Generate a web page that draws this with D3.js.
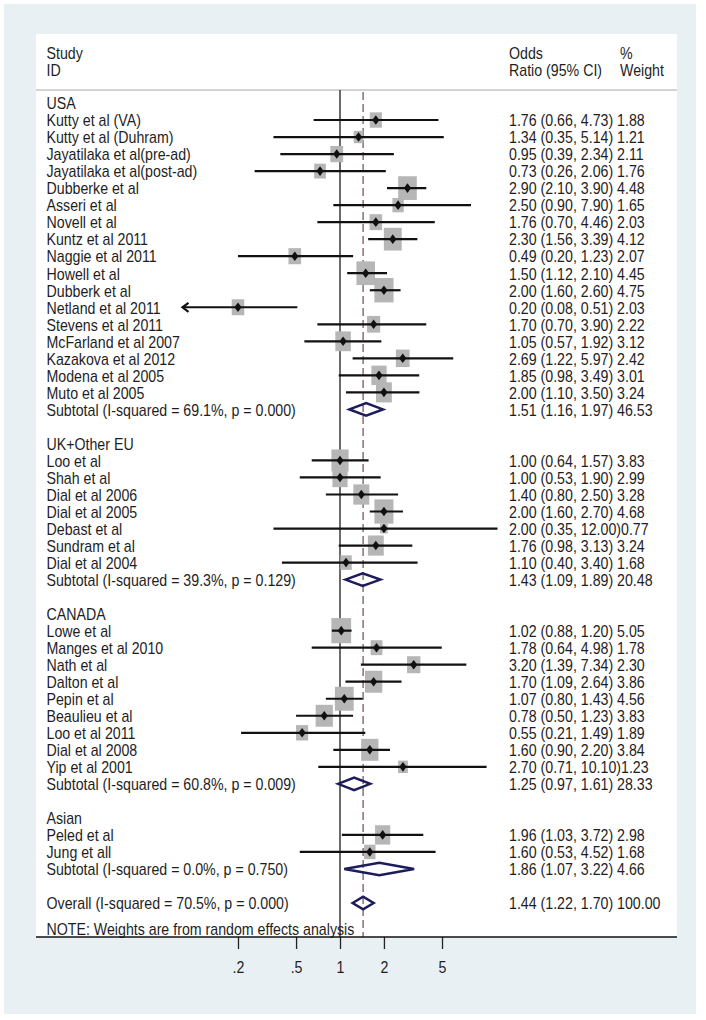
<!DOCTYPE html>
<html><head><meta charset="utf-8">
<script src="https://cdn.jsdelivr.net/npm/d3@7"></script>
<style>
body{margin:0;background:#fff}
svg{display:block}
text{font-family:"Liberation Sans",Arial,sans-serif;fill:#1e1e1e;font-size:17px}
</style>
</head><body><svg id="c" width="706" height="1020"></svg>
<script>
// ---------------- DATA ----------------
const groups = ["USA", "UK+Other EU", "CANADA", "Asian"];

const studyNames = [
  "Kutty et al (VA)", "Kutty et al (Duhram)", "Jayatilaka et al(pre-ad)", "Jayatilaka et al(post-ad)",
  "Dubberke et al", "Asseri et al", "Novell et al", "Kuntz et al 2011", "Naggie et al 2011",
  "Howell et al", "Dubberk et al", "Netland et al 2011", "Stevens et al 2011", "McFarland et al 2007",
  "Kazakova et al 2012", "Modena et al 2005", "Muto et al 2005",
  "Loo et al", "Shah et al", "Dial et al 2006", "Dial et al 2005", "Debast et al", "Sundram et al", "Dial et al 2004",
  "Lowe et al", "Manges et al 2010", "Nath et al", "Dalton et al", "Pepin et al", "Beaulieu et al",
  "Loo et al 2011", "Dial et al 2008", "Yip et al 2001",
  "Peled et al", "Jung et all"
];
const studyGroup = [
  0,0,0,0,0,0,0,0,0,0,0,0,0,0,0,0,0,
  1,1,1,1,1,1,1,
  2,2,2,2,2,2,2,2,2,
  3,3
];
const studyOR = [1.76,1.34,0.95,0.73,2.90,2.50,1.76,2.30,0.49,1.50,2.00,0.20,1.70,1.05,2.69,1.85,2.00,
  1.00,1.00,1.40,2.00,2.00,1.76,1.10,
  1.02,1.78,3.20,1.70,1.07,0.78,0.55,1.60,2.70,
  1.96,1.60];
const studyLo = [0.66,0.35,0.39,0.26,2.10,0.90,0.70,1.56,0.20,1.12,1.60,0.08,0.70,0.57,1.22,0.98,1.10,
  0.64,0.53,0.80,1.60,0.35,0.98,0.40,
  0.88,0.64,1.39,1.09,0.80,0.50,0.21,0.90,0.71,
  1.03,0.53];
const studyHi = [4.73,5.14,2.34,2.06,3.90,7.90,4.46,3.39,1.23,2.10,2.60,0.51,3.90,1.92,5.97,3.49,3.50,
  1.57,1.90,2.50,2.70,12.00,3.13,3.40,
  1.20,4.98,7.34,2.64,1.43,1.23,1.49,2.20,10.10,
  3.72,4.52];
const studyWeight = [1.88,1.21,2.11,1.76,4.48,1.65,2.03,4.12,2.07,4.45,4.75,2.03,2.22,3.12,2.42,3.01,3.24,
  3.83,2.99,3.28,4.68,0.77,3.24,1.68,
  5.05,1.78,2.30,3.86,4.56,3.83,1.89,3.84,1.23,
  2.98,1.68];

const subtotalLabels = [
  "Subtotal  (I-squared = 69.1%, p = 0.000)",
  "Subtotal  (I-squared = 39.3%, p = 0.129)",
  "Subtotal  (I-squared = 60.8%, p = 0.009)",
  "Subtotal  (I-squared = 0.0%, p = 0.750)"
];
const subtotalOR = [1.51, 1.43, 1.25, 1.86];
const subtotalLo = [1.16, 1.09, 0.97, 1.07];
const subtotalHi = [1.97, 1.89, 1.61, 3.22];
const subtotalWeight = [46.53, 20.48, 28.33, 4.66];

const overallLabel = "Overall  (I-squared = 70.5%, p = 0.000)";
const overallOR = 1.44, overallLo = 1.22, overallHi = 1.70, overallWeight = 100.00;
const noteText = "NOTE: Weights are from random effects analysis";

const tickValues = [0.2, 0.5, 1, 2, 5];
const tickLabels = [".2", ".5", "1", "2", "5"];
const xDomain = [1/12, 12];

// ---------------- LAYOUT ----------------
const svg = d3.select("#c");
const SX = 0.835;
const panel = {x0: 36, x1: 677, y0: 34, y1: 937};

svg.append("rect").attr("x",4).attr("y",4).attr("width",692).attr("height",1010).attr("fill","#e9f0f3");
svg.append("rect").attr("x",panel.x0).attr("y",panel.y0).attr("width",panel.x1-panel.x0).attr("height",panel.y1-panel.y0).attr("fill","#fff");

// rows
const rows = [];
groups.forEach((g, gi) => {
  rows.push({type:"group", label:g});
  studyNames.forEach((n, i) => {
    if (studyGroup[i] === gi) rows.push({type:"study", label:n, or:studyOR[i], lo:studyLo[i], hi:studyHi[i], w:studyWeight[i]});
  });
  rows.push({type:"sub", label:subtotalLabels[gi], or:subtotalOR[gi], lo:subtotalLo[gi], hi:subtotalHi[gi], w:subtotalWeight[gi]});
  rows.push({type:"blank", label:""});
});
rows.push({type:"overall", label:overallLabel, or:overallOR, lo:overallLo, hi:overallHi, w:overallWeight});

const y = d3.scaleLinear().domain([0, rows.length-1]).range([103, 903]);
const x = d3.scaleLog().domain(xDomain).range([182.5, 497.5]);

function txt(px, py, s, g) {
  return (g || svg).append("text").attr("transform", `translate(${px},${py}) scale(${SX},1)`).text(s);
}

// header
txt(46.5, 58.5, "Study"); txt(46.5, 75.5, "ID");
txt(509, 58.5, "Odds"); txt(509, 75.5, "Ratio (95% CI)");
txt(620, 58.5, "%"); txt(620, 75.5, "Weight");
svg.append("line").attr("x1",panel.x0).attr("x2",panel.x1).attr("y1",90).attr("y2",90).attr("stroke","#a8a8a8").attr("stroke-width",1.2);

// reference lines
svg.append("line").attr("x1",x(1)).attr("x2",x(1)).attr("y1",90).attr("y2",panel.y1).attr("stroke","#3a3a3a").attr("stroke-width",1.5);
svg.append("line").attr("x1",x(overallOR)).attr("x2",x(overallOR)).attr("y1",92).attr("y2",panel.y1)
  .attr("stroke","#7d5c5c").attr("stroke-width",1.3).attr("stroke-dasharray","8,4");

const f2 = d3.format(".2f");
const KW = 8.8, KH = 11.2;

const studies = rows.map((r,i)=>({...r, i})).filter(r => r.type === "study");
// squares
svg.append("g").selectAll("rect").data(studies).join("rect")
  .attr("x", d => x(d.or) - KW*Math.sqrt(d.w)/2)
  .attr("y", d => y(d.i) - KH*Math.sqrt(d.w)/2)
  .attr("width", d => KW*Math.sqrt(d.w))
  .attr("height", d => KH*Math.sqrt(d.w))
  .attr("fill", "#b6b6b6");
// CI lines
svg.append("g").selectAll("line").data(studies).join("line")
  .attr("x1", d => x(Math.max(d.lo, xDomain[0])))
  .attr("x2", d => x(Math.min(d.hi, xDomain[1])))
  .attr("y1", d => y(d.i)).attr("y2", d => y(d.i))
  .attr("stroke", "#111").attr("stroke-width", 2.2);
// arrows for truncated CIs
svg.append("g").selectAll("path").data(studies.filter(d => d.lo < xDomain[0])).join("path")
  .attr("d", d => { const x0 = x(xDomain[0]), yy = y(d.i); return `M${x0+6},${yy-4.5}L${x0},${yy}L${x0+6},${yy+4.5}`; })
  .attr("fill","none").attr("stroke","#111").attr("stroke-width",2.2);
// point markers
svg.append("g").selectAll("path").data(studies).join("path")
  .attr("d", d => { const cx = x(d.or), cy = y(d.i); return `M${cx},${cy-4.8}L${cx+3.6},${cy}L${cx},${cy+4.8}L${cx-3.6},${cy}Z`; })
  .attr("fill", "#111");

// pooled diamonds
const pooled = rows.map((r,i)=>({...r, i})).filter(r => r.type === "sub" || r.type === "overall");
svg.append("g").selectAll("path").data(pooled).join("path")
  .attr("d", d => { const cy = y(d.i), h = 6.3; return `M${x(d.lo)},${cy}L${x(d.or)},${cy-h}L${x(d.hi)},${cy}L${x(d.or)},${cy+h}Z`; })
  .attr("fill", "none").attr("stroke", "#1c1c5c").attr("stroke-width", 2.5).attr("stroke-linejoin","miter");

// row labels and stats text
rows.forEach((r, i) => {
  const by = y(i) + 6.3;
  if (r.label) txt(46.5, by, r.label);
  if (r.type === "study" || r.type === "sub" || r.type === "overall") {
    const ci = `${f2(r.or)} (${f2(r.lo)}, ${f2(r.hi)})`;
    const sep = r.hi >= 10 ? "" : " ";
    txt(509, by, ci + sep + f2(r.w));
  }
});
txt(46.5, 935, noteText);

// axis
const axis = d3.axisBottom(x).tickValues(tickValues).tickFormat((d,i) => tickLabels[i]).tickSize(12).tickSizeOuter(0);
const ag = svg.append("g").attr("transform", `translate(0,${panel.y1})`).call(axis);
ag.select(".domain").remove();
ag.selectAll(".tick line").attr("stroke","#222").attr("stroke-width",1.3);
ag.selectAll(".tick text").attr("y", null).attr("dy", null)
  .attr("transform", `translate(0,36) scale(${SX},1)`)
  .attr("font-family", null).attr("font-size", null).attr("fill", "#1e1e1e");
svg.append("line").attr("x1",panel.x0).attr("x2",panel.x1).attr("y1",panel.y1).attr("y2",panel.y1).attr("stroke","#111").attr("stroke-width",1.6);
</script>
</body></html>
